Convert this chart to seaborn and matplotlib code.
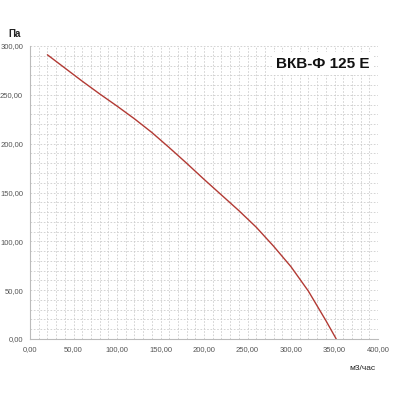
import numpy as np
import pandas as pd
import matplotlib
matplotlib.use("Agg")
import matplotlib.pyplot as plt
import seaborn as sns

# fan curve
flow = [20, 40, 60, 80, 100, 120, 140, 160, 180, 200, 220, 240, 260, 280, 300, 320, 340, 352]
pressure = [291, 277.5, 264, 251, 238.5, 225.5, 211.5, 196, 180, 163.5, 147.5, 131.5, 114.5, 95, 74, 49, 19, 0]
x_ticks = [0, 50, 100, 150, 200, 250, 300, 350, 400]
y_ticks = [0, 50, 100, 150, 200, 250, 300]
title = "ВКВ-Ф 125 Е"

sns.set_theme(style="white")
plt.rcParams["font.family"] = ["Liberation Sans", "DejaVu Sans"]

df = pd.DataFrame({"flow": flow, "pressure": pressure})

fig = plt.figure(figsize=(4, 4), dpi=100)
ax = fig.add_axes([0.075, 0.1525, 0.87, 0.7325])
sns.lineplot(data=df, x="flow", y="pressure", ax=ax, color="#b23a34", linewidth=1.0)

ax.set_xlim(0, 400)
ax.set_ylim(0, 300)
ax.set_xticks(x_ticks)
ax.set_yticks(y_ticks)
ax.set_xticklabels([f"{v:.2f}".replace(".", ",") for v in x_ticks])
ax.set_yticklabels([f"{v:.2f}".replace(".", ",") for v in y_ticks])
ax.set_xticks(np.arange(0, 401, 10), minor=True)
ax.set_yticks(np.arange(0, 301, 10), minor=True)
ax.grid(which="both", color="#cccccc", linestyle=(0, (2, 2)), linewidth=0.6)
ax.tick_params(which="both", length=0, labelsize=5.5, labelcolor="#555555")
ax.tick_params(axis="x", pad=5)
ax.tick_params(axis="y", pad=5)
for s in ["top", "right"]:
    ax.spines[s].set_visible(False)
for s in ["left", "bottom"]:
    ax.spines[s].set_color("#bbbbbb")
    ax.spines[s].set_linewidth(0.8)
ax.set_xlabel("")
ax.set_ylabel("")

fig.text(0.02, 0.915, "Па", fontsize=7, fontweight="bold", color="#222222", va="center")
fig.text(0.905, 0.08, "м3/час", fontsize=6, color="#222222", ha="center", va="center")
ax.text(0.977, 0.94, title, transform=ax.transAxes, fontsize=11, fontweight="bold",
        ha="right", va="center", color="#111111",
        bbox=dict(facecolor="white", edgecolor="none", pad=3))

fig.savefig("out.png", dpi=100)
